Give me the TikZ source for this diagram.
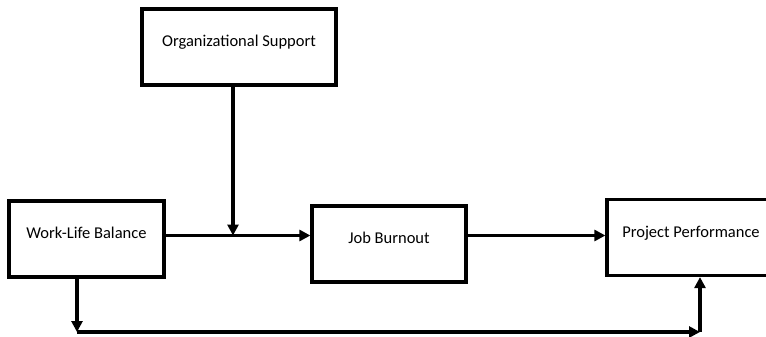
\documentclass[tikz,border=0pt]{standalone}
\usepackage{fontspec}
\setmainfont{Carlito}
\usetikzlibrary{arrows.meta,positioning}

\tikzset{
  factor/.style={draw, line width=3.2pt, minimum height=76pt, inner sep=0pt,
    font=\fontsize{16.5}{19}\selectfont, text height=12pt, text depth=13pt},
  link/.style={line width=3.4pt, -{Triangle[length=11pt,width=11pt]}}
}

\begin{document}
\begin{tikzpicture}[x=1pt,y=-1pt]
    \useasboundingbox (0,0) rectangle (766,337);
    \node[factor,minimum width=155pt] (wlb) at (86.5,239)  {Work-Life Balance};
    \node[factor,minimum width=194pt] (os)  at (239,47)    {Organizational Support};
    \node[factor,minimum width=154pt] (jb)  at (389,244)   {Job Burnout};
    \node[factor,minimum width=168pt] (pp)  at (691,237.5) {Project Performance};
    \coordinate (mid) at (233,235.5);
    \coordinate (botL) at (77,332);
    \coordinate (botR) at (700,332);

    \draw[line width=3.4pt] (wlb.east |- mid) -- (mid);
    \draw[link] (mid) -- (jb.west |- mid);
    \draw[link] (os.south -| mid) -- (mid);
    \draw[link] (jb.east |- mid) -- (pp.west |- mid);
    \draw[link] (wlb.south -| botL) -- (botL);
    \draw[link] (botL) -- (botR);
    \draw[link] (botR) -- (pp.south -| botR);

\end{tikzpicture}
\end{document}
